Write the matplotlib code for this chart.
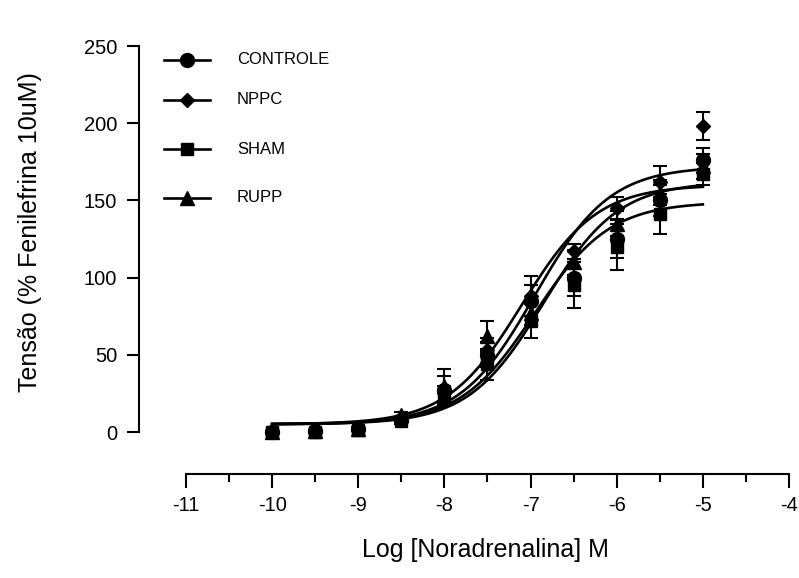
import numpy as np
import matplotlib
matplotlib.use("Agg")
import matplotlib.pyplot as plt
from matplotlib.lines import Line2D

plt.rcParams['font.family'] = ['Liberation Sans', 'DejaVu Sans']

# Log molar concentration of noradrenaline
log_conc = [-10, -9.5, -9, -8.5, -8, -7.5, -7, -6.5, -6, -5.5, -5]

groups = ["CONTROLE", "NPPC", "SHAM", "RUPP"]
markers = {"CONTROLE": "o", "NPPC": "D", "SHAM": "s", "RUPP": "^"}
msizes = {"CONTROLE": 10, "NPPC": 7.5, "SHAM": 9, "RUPP": 10}

# Mean tension (% of 10 uM phenylephrine) and SEM
controle_mean = [0, 0.5, 2, 8, 27, 50, 85, 100, 125, 150, 176]
controle_sem = [0.5, 0.5, 1, 2, 9, 8, 10, 12, 12, 10, 8]
nppc_mean = [0, 0.5, 2, 8, 25, 53, 88, 117, 145, 162, 198]
nppc_sem = [0.5, 0.5, 1, 2, 5, 8, 13, 5, 7, 10, 9]
sham_mean = [0, 0, 1.5, 7, 22, 44, 72, 95, 120, 141, 167]
sham_sem = [0.5, 0.5, 1, 2, 5, 10, 11, 15, 15, 13, 7]
rupp_mean = [0, 0.5, 2, 11, 30, 62, 77, 110, 135, 155, 172]
rupp_sem = [0.5, 0.5, 1, 2, 11, 10, 8, 8, 8, 8, 8]

means = {"CONTROLE": controle_mean, "NPPC": nppc_mean, "SHAM": sham_mean, "RUPP": rupp_mean}
sems = {"CONTROLE": controle_sem, "NPPC": nppc_sem, "SHAM": sham_sem, "RUPP": rupp_sem}

# Sigmoidal dose-response fit parameters: bottom, top, logEC50
fit_bottom = {"CONTROLE": 5, "NPPC": 5, "SHAM": 5, "RUPP": 5}
fit_top = {"CONTROLE": 162, "NPPC": 172, "SHAM": 149, "RUPP": 160}
fit_logec50 = {"CONTROLE": -6.85, "NPPC": -6.95, "SHAM": -6.95, "RUPP": -7.1}

x_ticks = [-11, -10, -9, -8, -7, -6, -5, -4]
y_ticks = [0, 50, 100, 150, 200, 250]

W, H = 799, 578
fig = plt.figure(figsize=(W / 100, H / 100), dpi=100)
ax = fig.add_axes([186 / W, 1 - 432 / H, 603 / W, 386 / H])

xs = np.linspace(min(log_conc), max(log_conc), 300)
for g in groups:
    b, t, e = fit_bottom[g], fit_top[g], fit_logec50[g]
    ys = b + (t - b) / (1 + 10 ** (e - xs))
    ax.plot(xs, ys, color="black", lw=1.9, clip_on=False, zorder=2)

for g in groups:
    ax.errorbar(log_conc, means[g], yerr=sems[g], fmt=markers[g], color="black",
                ms=msizes[g], mec="black", mfc="black", ecolor="black",
                elinewidth=1.5, capsize=5, capthick=1.5, clip_on=False, zorder=3)

ax.set_xlim(-11, -4)
ax.set_ylim(0, 250)
ax.spines['top'].set_visible(False)
ax.spines['right'].set_visible(False)
ax.spines['left'].set_position(('outward', 34))
ax.spines['bottom'].set_position(('outward', 30))
ax.spines['left'].set_bounds(0, 250)
ax.spines['bottom'].set_bounds(-11, -4)
for s in ('left', 'bottom'):
    ax.spines[s].set_linewidth(1.5)

ax.set_xticks(x_ticks)
ax.set_xticklabels([str(v) for v in x_ticks])
ax.set_xticks(np.arange(-10.5, -4, 1.0), minor=True)
ax.set_yticks(y_ticks)
ax.set_yticklabels([str(v) for v in y_ticks])
ax.tick_params(axis='y', which='major', length=8.6, width=1.5, pad=7, labelsize=14.5)
ax.tick_params(axis='x', which='major', length=10, width=1.5, pad=6, labelsize=14.5)
ax.tick_params(axis='x', which='minor', length=5.5, width=1.5)

fig.text(30 / W, 1 - 232 / H, "Tensão (% Fenilefrina 10uM)", rotation=90,
         ha='center', va='center', fontsize=18)
fig.text(485 / W, 1 - 550 / H, "Log [Noradrenalina] M", ha='center', va='center',
         fontsize=18)

# Legend entries
legend_rows = {"CONTROLE": 60, "NPPC": 100, "SHAM": 149, "RUPP": 198}
for g in groups:
    y = 1 - legend_rows[g] / H
    fig.add_artist(Line2D([164 / W, 210 / W], [y, y], color="black", lw=1.9,
                          marker=None, transform=fig.transFigure))
    fig.add_artist(Line2D([187 / W], [y], color="black", marker=markers[g],
                          ms=msizes[g], mfc="black", mec="black", transform=fig.transFigure))
    fig.text(237 / W, y, g, ha='left', va='center', fontsize=12)

fig.savefig("out.png", dpi=100)
